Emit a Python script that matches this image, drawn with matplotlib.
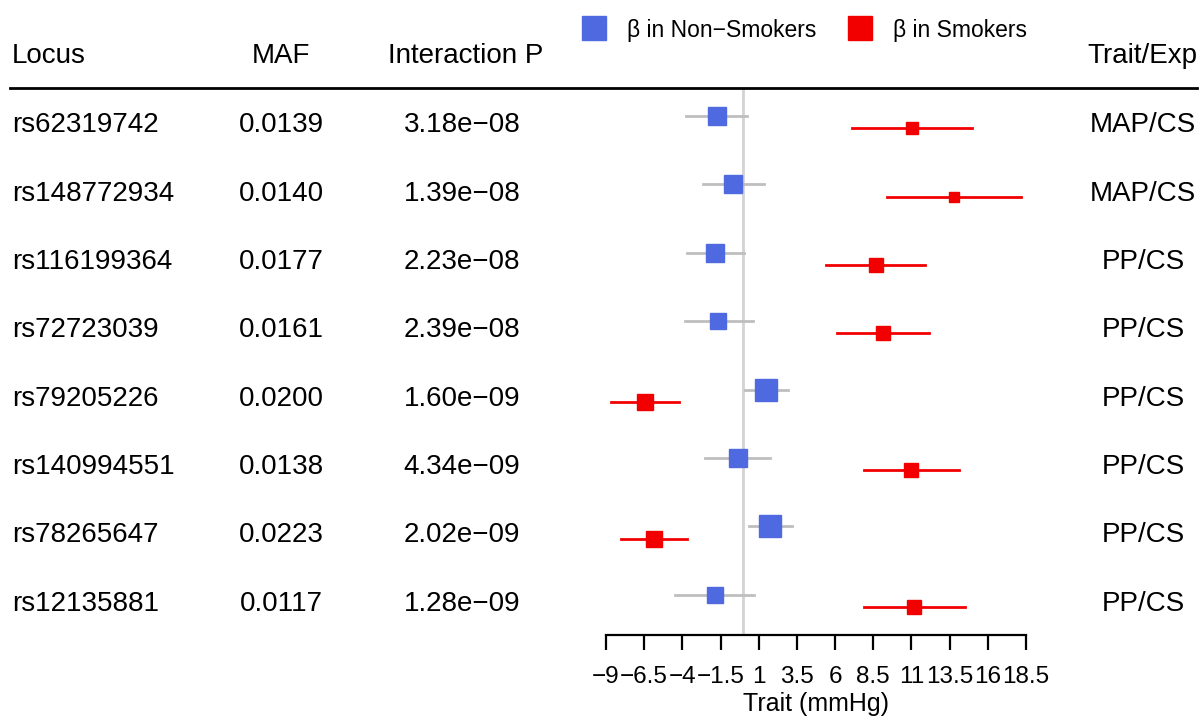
import numpy as np
import matplotlib.pyplot as plt
from matplotlib.lines import Line2D
from matplotlib.transforms import blended_transform_factory

plt.rcParams['font.family'] = ['Liberation Sans', 'DejaVu Sans']

# dane
locus = ["rs62319742", "rs148772934", "rs116199364", "rs72723039",
         "rs79205226", "rs140994551", "rs78265647", "rs12135881"]
maf = ["0.0139", "0.0140", "0.0177", "0.0161", "0.0200", "0.0138", "0.0223", "0.0117"]
p_int = ["3.18e−08", "1.39e−08", "2.23e−08", "2.39e−08",
         "1.60e−09", "4.34e−09", "2.02e−09", "1.28e−09"]
trait = ["MAP/CS", "MAP/CS", "PP/CS", "PP/CS", "PP/CS", "PP/CS", "PP/CS", "PP/CS"]

# beta u niepalacych (niebieskie)
ns_beta = [-1.75, -0.67, -1.87, -1.65, 1.47, -0.36, 1.76, -1.89]
ns_lo = [-3.77, -2.67, -3.72, -3.83, 0.10, -2.52, 0.34, -4.47]
ns_hi = [0.25, 1.34, 0.03, 0.60, 2.89, 1.74, 3.18, 0.71]

# beta u palacych (czerwone)
s_beta = [11.06, 13.79, 8.68, 9.11, -6.43, 10.99, -5.86, 11.17]
s_lo = [7.08, 9.42, 5.38, 6.10, -8.64, 7.89, -8.04, 7.89]
s_hi = [14.94, 18.20, 11.90, 12.17, -4.20, 14.13, -3.72, 14.49]

ticks = np.arange(-9, 18.6, 2.5)

blue = "#4F6AE0"
red = "#F20000"


def box_size(lo, hi):
    # wielkosc kwadratu ~ 1/szerokosc przedzialu (jak w forestplot)
    w = np.array(hi) - np.array(lo)
    return 42 * w ** -0.62 * 0.72


fig = plt.figure(figsize=(12, 7.21), dpi=100)
W, H = 1200, 721
ax = fig.add_axes([606 / W, 1 - 635 / H, 420 / W, (635 - 88) / H])

rows = np.arange(1, len(locus) + 1)
off = 0.09

ax.axvline(0, color="#D3D3D3", lw=2, zorder=0)

ns_sz = box_size(ns_lo, ns_hi)
s_sz = box_size(s_lo, s_hi)
for i, r in enumerate(rows):
    ax.plot([ns_lo[i], ns_hi[i]], [r - off, r - off], color="#BEBEBE", lw=2, clip_on=False)
    ax.plot(ns_beta[i], r - off, marker="s", ms=ns_sz[i], color=blue, clip_on=False)
    ax.plot([s_lo[i], s_hi[i]], [r + off, r + off], color=red, lw=2, clip_on=False)
    ax.plot(s_beta[i], r + off, marker="s", ms=s_sz[i], color=red, clip_on=False)

ax.set_xlim(-9, 18.5)
ax.set_ylim(8.5, 0.5)
ax.set_yticks([])
for sp in ["top", "right", "left"]:
    ax.spines[sp].set_visible(False)
ax.spines["bottom"].set_linewidth(1.6)
ax.set_xticks(ticks)
ax.set_xticklabels([f"{t:g}".replace("-", "−") for t in ticks])
ax.tick_params(axis="x", length=11, width=1.6, labelsize=17.5, pad=11)
ax.set_xlabel("Trait (mmHg)", fontsize=18, labelpad=3)

# kolumny z tekstem
tr = blended_transform_factory(fig.transFigure, ax.transData)
fs = 20
for i, r in enumerate(rows):
    fig.text(12 / W, r, locus[i], transform=tr, fontsize=fs, ha="left", va="center_baseline")
    fig.text(281 / W, r, maf[i], transform=tr, fontsize=fs, ha="center", va="center_baseline")
    fig.text(462 / W, r, p_int[i], transform=tr, fontsize=fs, ha="center", va="center_baseline")
    fig.text(1143 / W, r, trait[i], transform=tr, fontsize=fs, ha="center", va="center_baseline")

hy = 1 - 53 / H
fig.text(12 / W, hy, "Locus", fontsize=fs, ha="left", va="center_baseline")
fig.text(281 / W, hy, "MAF", fontsize=fs, ha="center", va="center_baseline")
fig.text(466 / W, hy, "Interaction P", fontsize=fs, ha="center", va="center_baseline")
fig.text(1142 / W, hy, "Trait/Exp", fontsize=fs, ha="center", va="center_baseline")

# linia pod naglowkiem
fig.add_artist(Line2D([10 / W, 1197 / W], [1 - 88 / H, 1 - 88 / H],
                      transform=fig.transFigure, color="black", lw=2))

# legenda
handles = [Line2D([], [], marker="s", ls="", ms=17, color=blue),
           Line2D([], [], marker="s", ls="", ms=17, color=red)]
fig.legend(handles, ["β in Non−Smokers", "β in Smokers"], loc="center",
           bbox_to_anchor=(799 / W, 1 - 30 / H), ncol=2, frameon=False,
           fontsize=16.5, handletextpad=0.45, columnspacing=0.9)

plt.savefig("out.png", dpi=100)
